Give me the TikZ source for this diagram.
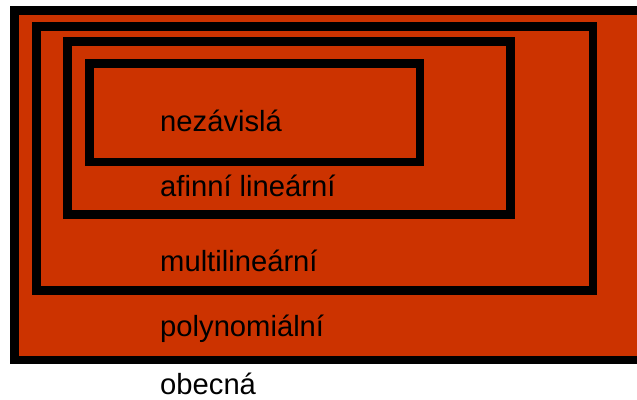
\documentclass[tikz,border=0pt]{standalone}
\usepackage{fontspec}
\setmainfont{Liberation Sans}
\definecolor{boxred}{HTML}{CC3300}
\begin{document}
\begin{tikzpicture}[x=1pt,y=-1pt,
  box/.style={draw=black,line width=8.7pt,line join=miter},
  lbl/.style={anchor=base west,inner sep=0pt,font=\fontsize{29.2}{34}\selectfont,text=black}]
\useasboundingbox (0,0) rectangle (637,399);
\begin{scope}
\clip (0,0) rectangle (637,399);
\fill[white] (0,0) rectangle (637,399);
\draw[box,fill=boxred] (14.5,10.5) rectangle (660,360);
\draw[box] (36.8,26.3) rectangle (593,290.2);
\draw[box] (67.2,41.7) rectangle (510.5,214.5);
\draw[box] (89.3,63.7) rectangle (420,162);
\end{scope}
\node[lbl] (nez) at (160,131.7) {nezávislá};
\node[lbl] (afi) at (160,196) {afinní lineární};
\node[lbl] (mul) at (160,271) {multilineární};
\node[lbl] (pol) at (160,336.7) {polynomiální};
\node[lbl] (obe) at (160,394) {obecná};
\end{tikzpicture}
\end{document}
